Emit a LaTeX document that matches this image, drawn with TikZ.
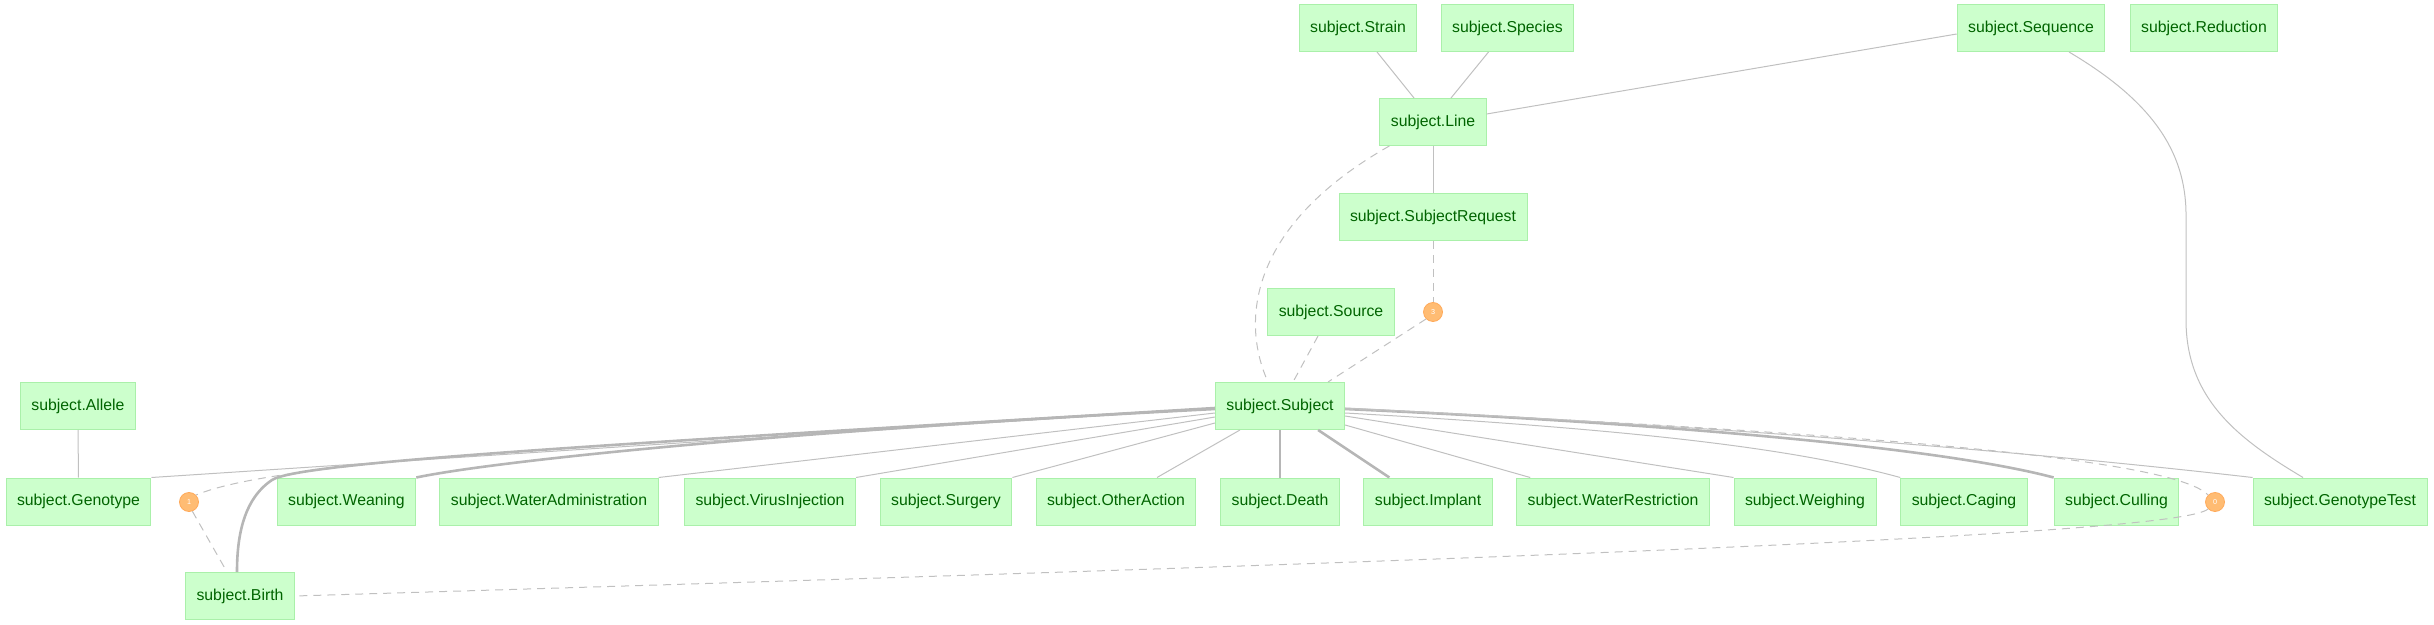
\documentclass[tikz,border=0pt]{standalone}
\usepackage{fontspec}
\setmainfont{Liberation Sans}
\usepackage{tikz}
\usetikzlibrary{calc}
\definecolor{tblfill}{RGB}{204,255,204}
\definecolor{tblline}{RGB}{170,240,170}
\definecolor{tbltext}{RGB}{0,100,0}
\definecolor{partfill}{RGB}{255,188,115}
\definecolor{partline}{RGB}{255,170,90}
\definecolor{edgegray}{RGB}{192,192,192}
\definecolor{edgedark}{RGB}{182,182,182}
\tikzstyle{tbl}=[rectangle, fill=tblfill, draw=tblline, line width=0.5pt, text=tbltext,
    minimum height=23.5pt, inner xsep=5.5pt, inner ysep=0pt,
    font=\fontsize{7.9}{9}\selectfont]
\tikzstyle{part}=[circle, fill=partfill, draw=partline, line width=0.4pt, text=white,
    minimum size=9.5pt, inner sep=0pt, font=\fontsize{3.6}{4}\selectfont]
\tikzstyle{refline}=[draw=edgegray, line width=0.5pt]
\tikzstyle{refthick}=[draw=edgedark, line width=1.3pt]
\tikzstyle{refdash}=[draw=edgegray, line width=0.5pt, dash pattern=on 4pt off 3pt]

\begin{document}
\begin{tikzpicture}[x=0.5pt, y=-0.5pt]
  \useasboundingbox (0,0) rectangle (2434,625);
  % top rows
  \node[tbl] (strain) at (1358,28) {subject.Strain};
  \node[tbl] (species) at (1507.5,28) {subject.Species};
  \node[tbl] (seq) at (2031,28) {subject.Sequence};
  \node[tbl] (red) at (2204,28) {subject.Reduction};
  \node[tbl] (line) at (1433,122) {subject.Line};
  \node[tbl] (sreq) at (1433,217) {subject.SubjectRequest};
  \node[tbl] (src) at (1331,312) {subject.Source};
  \node[part] (c3) at (1433,312) {3};
  \node[tbl] (allele) at (78,406) {subject.Allele};
  \node[tbl] (subj) at (1280,406) {subject.Subject};
  % bottom rows
  \node[tbl] (geno) at (78.5,501.5) {subject.Genotype};
  \node[part] (c1) at (189,502) {1};
  \node[tbl] (wean) at (346.5,501.5) {subject.Weaning};
  \node[tbl] (wadm) at (549,501.5) {subject.WaterAdministration};
  \node[tbl] (virus) at (770,501.5) {subject.VirusInjection};
  \node[tbl] (surg) at (946,501.5) {subject.Surgery};
  \node[tbl] (other) at (1116,501.5) {subject.OtherAction};
  \node[tbl] (death) at (1280,501.5) {subject.Death};
  \node[tbl] (impl) at (1428,501.5) {subject.Implant};
  \node[tbl] (wres) at (1613,501.5) {subject.WaterRestriction};
  \node[tbl] (weigh) at (1805,501.5) {subject.Weighing};
  \node[tbl] (cage) at (1964,501.5) {subject.Caging};
  \node[tbl] (cull) at (2116.5,501.5) {subject.Culling};
  \node[part] (c0) at (2215,502) {0};
  \node[tbl] (gtest) at (2340,501.5) {subject.GenotypeTest};
  \node[tbl] (birth) at (240,596) {subject.Birth};
  % edges above subject
  \draw[refline] ($(strain.south)+(19,0)$) -- ($(line.north)+(-19,0)$);
  \draw[refline] ($(species.south)+(-19,0)$) -- ($(line.north)+(18,0)$);
  \draw[refline] ($(seq.west)+(0,6)$) -- ($(line.east)+(0,-8)$);
  \draw[refline] (line.south) -- (sreq.north);
  \draw[refdash] (sreq.south) -- (c3.north);
  \draw[refdash] (c3.south west) -- ($(subj.north)+(48,0)$);
  \draw[refdash] ($(src.south)+(-13,0)$) -- ($(subj.north)+(13,0)$);
  \draw[refdash] ($(line.south west)+(10,0)$) .. controls (1250,225) and (1240,320) .. ($(subj.north)+(-12,0)$);
  \draw[refline] ($(seq.south)+(38,0)$) .. controls (2150,100) and (2186,150) .. (2186,215)
      -- (2186,320) .. controls (2186,400) and (2240,440) .. ($(gtest.north)+(-37,0)$);
  \draw[refline] (allele.south) -- (geno.north);
  % edges to the left
  \draw[refline] ($(subj.west)+(0,2)$) -- (geno.north east);
  \draw[refdash] ($(subj.west)+(0,2)$) .. controls (600,445) and (280,460) .. (c1.north east);
  \draw[refdash] (c1.290) -- ($(birth.north)+(-13,0)$);
  \draw[refthick] ($(subj.west)+(0,2)$) .. controls (600,445) and (300,462) .. (272,480)
      .. controls (242,500) and (237,540) .. ($(birth.north)+(-3,0)$);
  \draw[refthick] ($(subj.west)+(0,3)$) .. controls (800,430) and (500,460) .. (wean.north east);
  \draw[refline] ($(subj.west)+(0,7)$) -- (wadm.north east);
  \draw[refline] ($(subj.west)+(0,11)$) -- (virus.north east);
  \draw[refline] ($(subj.west)+(0,17)$) -- (surg.north east);
  \draw[refline] ($(subj.south west)+(25,0)$) -- ($(other.north)+(41,0)$);
  % edges below and to the right
  \draw[refthick] (subj.south) -- (death.north);
  \draw[refthick] ($(subj.south east)+(-27,0)$) -- ($(impl.north west)+(26,0)$);
  \draw[refline] ($(subj.east)+(0,19)$) -- ($(wres.north west)+(14,0)$);
  \draw[refline] ($(subj.east)+(0,10)$) -- (weigh.north west);
  \draw[refline] ($(subj.east)+(0,7)$) .. controls (1650,430) and (1800,450) .. (cage.north west);
  \draw[refthick] ($(subj.east)+(0,3)$) .. controls (1700,425) and (1950,450) .. (cull.north west);
  \draw[refdash] ($(subj.east)+(0,3)$) .. controls (1800,430) and (2170,455) .. (c0.north west);
  \draw[refline] ($(subj.east)+(0,2)$) .. controls (1800,430) and (2100,460) .. (gtest.north west);
  \draw[refdash] (c0.south west) .. controls (2180,535) and (1500,560) .. (birth.east);
\end{tikzpicture}
\end{document}
